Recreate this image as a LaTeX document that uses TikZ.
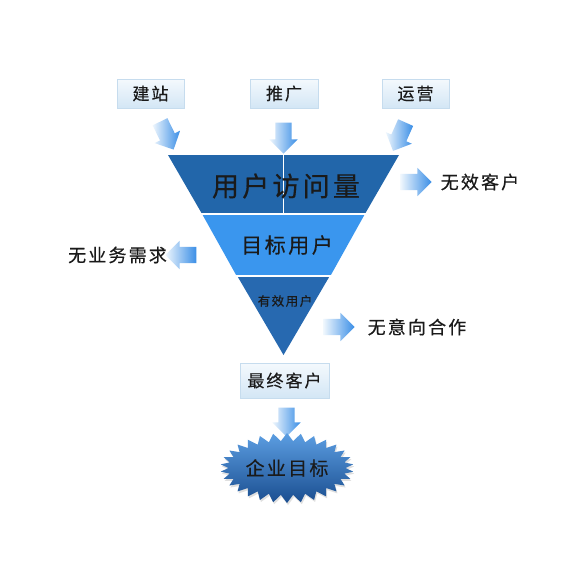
\documentclass[tikz,border=0pt]{standalone}
\usepackage{fontspec}
\newfontfamily\cjk[LetterSpace=12,FakeBold=0.4]{Noto Sans CJK SC}
\usetikzlibrary{shapes.arrows,shapes.symbols,shadows}
\definecolor{bandA}{HTML}{2266AA}
\definecolor{bandB}{HTML}{3A96EE}
\definecolor{bandC}{HTML}{2769B0}
\definecolor{arrowblue}{HTML}{3A8EE6}
\definecolor{arrowlight}{HTML}{EEF6FD}
\definecolor{boxtop}{HTML}{F4F9FD}
\definecolor{boxbot}{HTML}{D3E6F5}
\definecolor{boxline}{HTML}{C6DCEE}
\definecolor{txt}{HTML}{1A1A1A}
\definecolor{burstA}{HTML}{5C9EE2}
\definecolor{burstB}{HTML}{1A4E90}
\tikzset{
  every node/.style={font=\cjk, text=txt},
  labelbox/.style={draw=boxline, line width=0.6pt, top color=boxtop, bottom color=boxbot, inner sep=0pt, font=\cjk\fontsize{17}{17}\selectfont},
  blockarrow/.style={single arrow, single arrow head extend=6pt, single arrow head indent=0pt, inner xsep=0pt, inner ysep=8pt, minimum height=31pt, left color=arrowlight, right color=arrowblue, draw=none},
  sidetext/.style={font=\cjk\fontsize{18}{18}\selectfont},
}
\begin{document}
\begin{tikzpicture}[x=1pt,y=-1pt]
\useasboundingbox[fill=white] (0,0) rectangle (570,570);
% funnel
\coordinate (tl) at (168,155);
\coordinate (tr) at (399,155);
\coordinate (apex) at (283.5,355);
\fill[bandA] (168,155) -- (399,155) -- (365.5,213) -- (201.5,213) -- cycle;
\fill[bandB] (202.1,214) -- (364.9,214) -- (330.9,275) -- (236.1,275) -- cycle;
\fill[bandC] (236.7,275) -- (330.3,275) -- (apex) -- cycle;
\draw[white, line width=2pt] (200,214) -- (367,214);
\draw[white, line width=2pt] (234,275.5) -- (333,275.5);
\draw[white, line width=1.3pt] (283.5,155) -- (283.5,213);
\node[font=\cjk\fontsize{27}{27}\selectfont] (visits) at (286,186) {用户访问量};
\node[font=\cjk\fontsize{21}{21}\selectfont] (target) at (287,245) {目标用户};
\node[font=\cjk\fontsize{12.5}{12.5}\selectfont] (valid) at (285,301) {有效用户};
% top boxes
\node[labelbox, minimum width=67pt, minimum height=29pt] (jz) at (150.5,93.5) {建站};
\node[labelbox, minimum width=68pt, minimum height=29pt] (tg) at (284,93.5) {推广};
\node[labelbox, minimum width=67pt, minimum height=29pt] (yy) at (415.5,93.5) {运营};
% top arrows
\node[blockarrow, rotate=-64] (a1) at (165,132) {};
\node[blockarrow, rotate=-90] (a2) at (283.5,134) {};
\node[blockarrow, rotate=-114] (a3) at (401,133) {};
% side arrows and labels
\node[blockarrow, rotate=0] (a4) at (412,182) {};
\node[sidetext] (wx) at (480,182) {无效客户};
\node[blockarrow, rotate=180] (a5) at (185,255) {};
\node[sidetext] (wy) at (117.5,255) {无业务需求};
\node[blockarrow, rotate=0] (a6) at (335,327) {};
\node[sidetext] (wz) at (417,327) {无意向合作};
% final
\node[labelbox, minimum width=89pt, minimum height=35pt] (final) at (284.5,380.5) {最终客户};
\node[blockarrow, rotate=-90, minimum height=29pt] (a7) at (286.5,418) {};
\node[starburst, starburst points=30, starburst point height=8pt, random starburst=0, minimum width=122pt, minimum height=70pt, inner sep=0pt, top color=burstA, bottom color=burstB, drop shadow={opacity=0.25, shadow xshift=1pt, shadow yshift=-2pt}, font=\cjk\fontsize{19}{19}\selectfont] (goal) at (287,468) {企业目标};
\end{tikzpicture}
\end{document}
